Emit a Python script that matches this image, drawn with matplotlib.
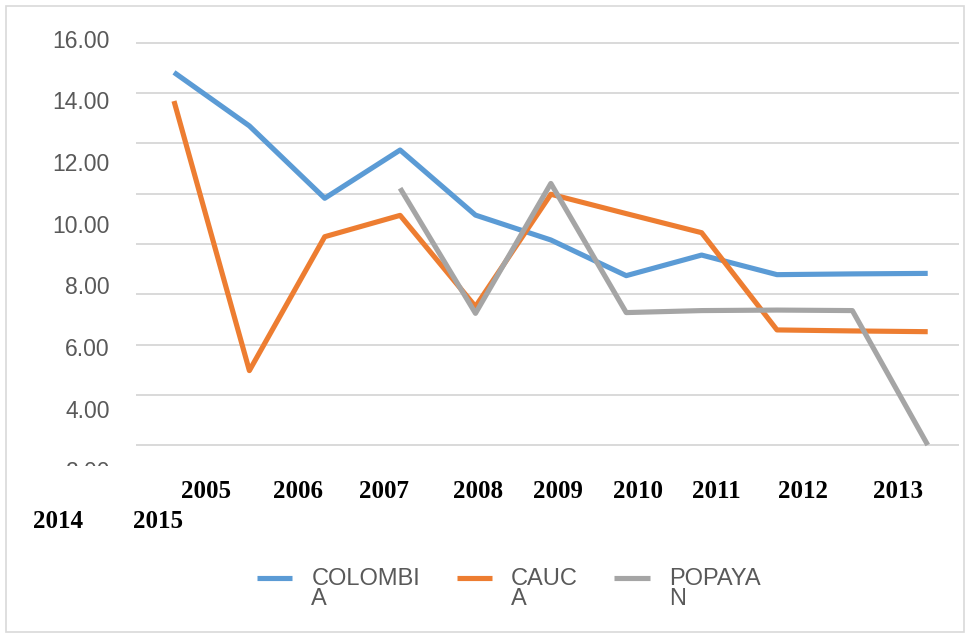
import matplotlib
matplotlib.use('Agg')
import matplotlib.pyplot as plt
import numpy as np
from matplotlib.lines import Line2D
from matplotlib.patches import Rectangle
from matplotlib.transforms import Bbox, TransformedBbox
from matplotlib.font_manager import FontProperties

# ---------------- data ----------------
years = ['2005', '2006', '2007', '2008', '2009', '2010', '2011', '2012', '2013', '2014', '2015']
colombia = [14.83, 12.70, 9.82, 11.74, 9.15, 8.16, 6.74, 7.56, 6.78, 6.81, 6.83]
cauca = [13.69, 2.96, 8.29, 9.14, 5.51, 9.98, 9.21, 8.45, 4.58, 4.54, 4.51]
popayan = [np.nan, np.nan, np.nan, 10.22, 5.24, 10.41, 5.27, 5.35, 5.37, 5.35, 0.0]
series_names = ['COLOMBI\nA', 'CAUC\nA', 'POPAYA\nN']
colors = ['#5B9BD5', '#ED7D31', '#A5A5A5']
ytick_labels = ['16.00', '14.00', '12.00', '10.00', '8.00', '6.00', '4.00', '2.00']
grid_values = [0, 2, 4, 6, 8, 10, 12, 14, 16]

# ---------------- layout (pixels) ----------------
W, H = 967, 636
def fx(x):
    return x / W
def fy(y):
    return 1 - y / H

fig = plt.figure(figsize=(W / 100, H / 100), dpi=100)
fig.patch.set_facecolor('white')

ax_left, ax_right, ax_top, ax_bot = 136, 959, 40, 448
ax = fig.add_axes([fx(ax_left), fy(ax_bot), fx(ax_right - ax_left), (ax_bot - ax_top) / H])
px_per_unit = 25.125
ax.set_ylim(0 - (ax_bot - 445) / px_per_unit, 16 + (43 - ax_top) / px_per_unit)
ax.set_xlim(-0.504, 10.415)

x = np.arange(len(years))
for vals, c in zip([colombia, cauca, popayan], colors):
    ax.plot(x, vals, color=c, lw=3.7, solid_capstyle='butt', solid_joinstyle='round',
            clip_on=False, zorder=3)

ax.set_yticks(grid_values)
ax.yaxis.grid(True, color='#D9D9D9', lw=1.4)
ax.set_axisbelow(True)
ax.tick_params(axis='y', length=0, labelleft=False)
ax.set_xticks([])
for s in ax.spines.values():
    s.set_visible(False)

# y labels (offset from the gridlines, as in the reference)
clip = TransformedBbox(Bbox.from_extents(0, fy(466), 1, 1), fig.transFigure)
for k, lab in enumerate(ytick_labels):
    t = fig.text(fx(110), fy(41 + 61.7 * k), lab, ha='right', va='center',
                 fontsize=16.5, color='#595959', family='Liberation Sans')
    t.set_clip_on(True)
    t.set_clip_box(clip)

# x labels (wrapped in two rows, as in the reference)
row1_x = [206, 298, 384, 478, 558, 638, 716, 803, 898]
row2_x = [58, 158]
for lab, px in zip(years[:9], row1_x):
    fig.text(fx(px), fy(492), lab, ha='center', va='center', fontsize=18,
             fontweight='bold', family='Liberation Serif', color='black')
for lab, px in zip(years[9:], row2_x):
    fig.text(fx(px), fy(522), lab, ha='center', va='center', fontsize=18,
             fontweight='bold', family='Liberation Serif', color='black')

# legend
handles = [Line2D([], [], color=c, lw=3.7, solid_capstyle='butt') for c in colors]
leg = fig.legend(handles, series_names, ncol=3, frameon=False,
                 prop=FontProperties(family='Liberation Sans', size=17),
                 labelcolor='#595959', loc='center left',
                 bbox_to_anchor=(fx(257), fy(589)), borderpad=0, borderaxespad=0,
                 handlelength=1.5, handletextpad=0.8, columnspacing=1.55)
for t in leg.get_texts():
    t.set_linespacing(0.92)
# align legend keys with the first line of each wrapped label
for h in leg.legend_handles:
    h.set_ydata(np.asarray(h.get_ydata()) + 8)

# outer border
fig.patches.append(Rectangle((fx(6), fy(632)), fx(964 - 6), (632 - 6) / H,
                             transform=fig.transFigure, fill=False,
                             edgecolor='#D9D9D9', lw=1.2))

fig.savefig('out.png', dpi=100, facecolor='white')
